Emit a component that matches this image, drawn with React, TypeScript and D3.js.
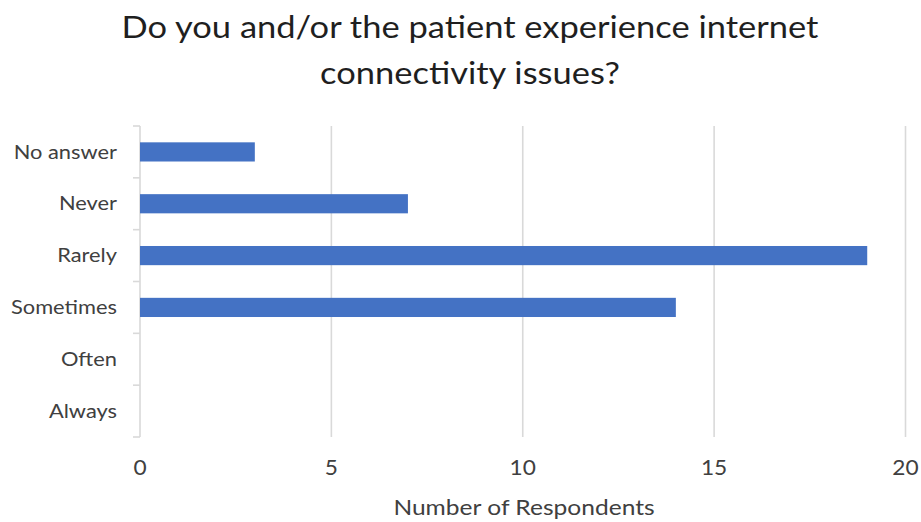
import React from "react";
import * as d3 from "d3";

const categories = ["No answer", "Never", "Rarely", "Sometimes", "Often", "Always"];
const values = [3, 7, 19, 14, 0, 0];
const xTicks = [0, 5, 10, 15, 20];
const titleLines = ["Do you and/or the patient experience internet", "connectivity issues?"];
const xAxisTitle = "Number of Respondents";

const W = 921;
const H = 522;
const margin = { left: 140, right: 16, top: 126, bottom: 85 };
const FONT = "Lato, 'Open Sans', sans-serif";
const SX = 1.15;

function WideText(props: {
  x: number;
  y: number;
  anchor: "start" | "middle" | "end";
  size: number;
  fill: string;
  sx?: number;
  dy?: string;
  children: React.ReactNode;
}) {
  const s = props.sx ?? SX;
  return (
    <text
      transform={`translate(${props.x},${props.y}) scale(${s},1)`}
      textAnchor={props.anchor}
      fontSize={props.size}
      fill={props.fill}
      dy={props.dy}
    >
      {props.children}
    </text>
  );
}

export default function App() {
  const x = d3.scaleLinear().domain([0, 20]).range([margin.left, 905.5]);
  const y = d3
    .scaleBand<string>()
    .domain(categories)
    .range([margin.top, H - margin.bottom])
    .paddingInner(0.63)
    .paddingOuter(0.315);
  const outer = d3.scaleBand<string>().domain(categories).range([margin.top, H - margin.bottom]);
  const bottom = H - margin.bottom;

  return (
    <svg
      width={W}
      height={H}
      style={{ position: "absolute", left: 0, top: 0, background: "#fff", display: "block" }}
      fontFamily={FONT}
    >
      <rect x={0} y={0} width={W} height={H} fill="#fff" />
      {titleLines.map((t, i) => (
        <WideText key={i} x={470} y={38 + i * 46} anchor="middle" size={30} fill="#1f1f1f">
          {t}
        </WideText>
      ))}
      {xTicks.map((t) => (
        <g key={t}>
          {t > 0 && (
            <line x1={x(t)} x2={x(t)} y1={margin.top} y2={bottom} stroke="#d9d9d9" strokeWidth={1.6} />
          )}
          <WideText x={x(t)} y={475} anchor="middle" size={21} fill="#404040" sx={1.08}>
            {t}
          </WideText>
        </g>
      ))}
      <line x1={x(0)} x2={x(0)} y1={margin.top} y2={bottom} stroke="#d9d9d9" strokeWidth={1.6} />
      {categories.map((c) => (
        <line
          key={c}
          x1={x(0) - 7}
          x2={x(0)}
          y1={outer(c)!}
          y2={outer(c)!}
          stroke="#d9d9d9"
          strokeWidth={1.6}
        />
      ))}
      <line x1={x(0) - 7} x2={x(0)} y1={bottom} y2={bottom} stroke="#d9d9d9" strokeWidth={1.6} />
      {categories.map((c, i) => (
        <g key={c}>
          {values[i] > 0 && (
            <rect
              x={x(0)}
              y={y(c)!}
              width={x(values[i]) - x(0)}
              height={y.bandwidth()}
              fill="#4472C4"
            />
          )}
          <WideText
            x={117}
            y={outer(c)! + outer.bandwidth() / 2}
            dy="0.35em"
            anchor="end"
            size={19}
            fill="#404040"
          >
            {c}
          </WideText>
        </g>
      ))}
      <WideText x={524} y={515} anchor="middle" size={21} fill="#404040" sx={1.17}>
        {xAxisTitle}
      </WideText>
    </svg>
  );
}
